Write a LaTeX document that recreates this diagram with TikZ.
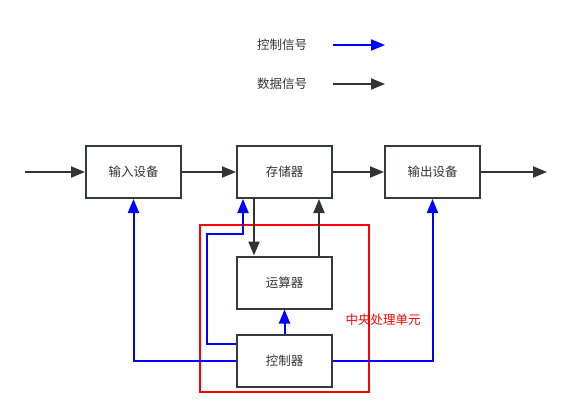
\documentclass[tikz,border=0pt]{standalone}
\usepackage{fontspec}
\setmainfont{Noto Sans CJK SC}
\usepackage{tikz}
\usetikzlibrary{arrows, arrows.meta, positioning}
\definecolor{boxgray}{HTML}{36393D}
\definecolor{txtgray}{HTML}{333333}
\tikzstyle{unit}=[rectangle, draw=boxgray, line width=2pt, minimum width=95pt, minimum height=52pt, inner sep=0pt, text=txtgray]
\tikzstyle{data}=[draw=txtgray, line width=2pt, -{Triangle[length=14pt,width=11pt]}]
\tikzstyle{ctl}=[draw=blue, line width=2pt, -{Triangle[length=14pt,width=11pt]}]
\newcommand{\unit}{\node[unit]}

\begin{document}
\begin{tikzpicture}[x=1pt, y=-1pt, font=\fontsize{12.5pt}{15pt}\selectfont]
            \useasboundingbox (0,0) rectangle (567,416);
            % legend
            \node[text=txtgray] (lctl) at (282,45) {控制信号};
            \node[text=txtgray] (ldat) at (282,84) {数据信号};
            \coordinate (lctla) at (333,45);
            \coordinate (lctlb) at (385,45);
            \coordinate (ldata) at (333,84);
            \coordinate (ldatb) at (385,84);
            \draw[ctl] (lctla) -- (lctlb);
            \draw[data] (ldata) -- (ldatb);
            % units
            \unit (in) at (133.5,172) {输入设备};
            \unit (mem) at (284.5,172) {存储器};
            \unit (out) at (432.5,172) {输出设备};
            \unit (alu) at (284.5,282.5) {运算器};
            \unit (ctrl) at (284.5,361) {控制器};
            \coordinate (src) at (25,172);
            \coordinate (snk) at (547,172);
            % cpu
            \draw[red, line width=2pt] (200,225) rectangle (369,392);
            \node[text=red] (cpu) at (383,320) {中央处理单元};
            % data signals
            \draw[data] (src) -- (in);
            \draw[data] (in) -- (mem);
            \draw[data] (mem) -- (out);
            \draw[data] (out) -- (snk);
            \draw[data] ([xshift=-30.5pt]mem.south) -- ([xshift=-30.5pt]alu.north);
            \draw[data] ([xshift=34.5pt]alu.north) -- ([xshift=34.5pt]mem.south);
            % control signals
            \draw[ctl] (ctrl) -- (alu);
            \draw[ctl] (ctrl.west) -| (in.south);
            \draw[ctl] (ctrl.east) -| (out.south);
            \draw[ctl] ([yshift=17pt]ctrl.west) -| (207,234) -| ([xshift=-41.5pt]mem.south);
        \end{tikzpicture}
\end{document}
